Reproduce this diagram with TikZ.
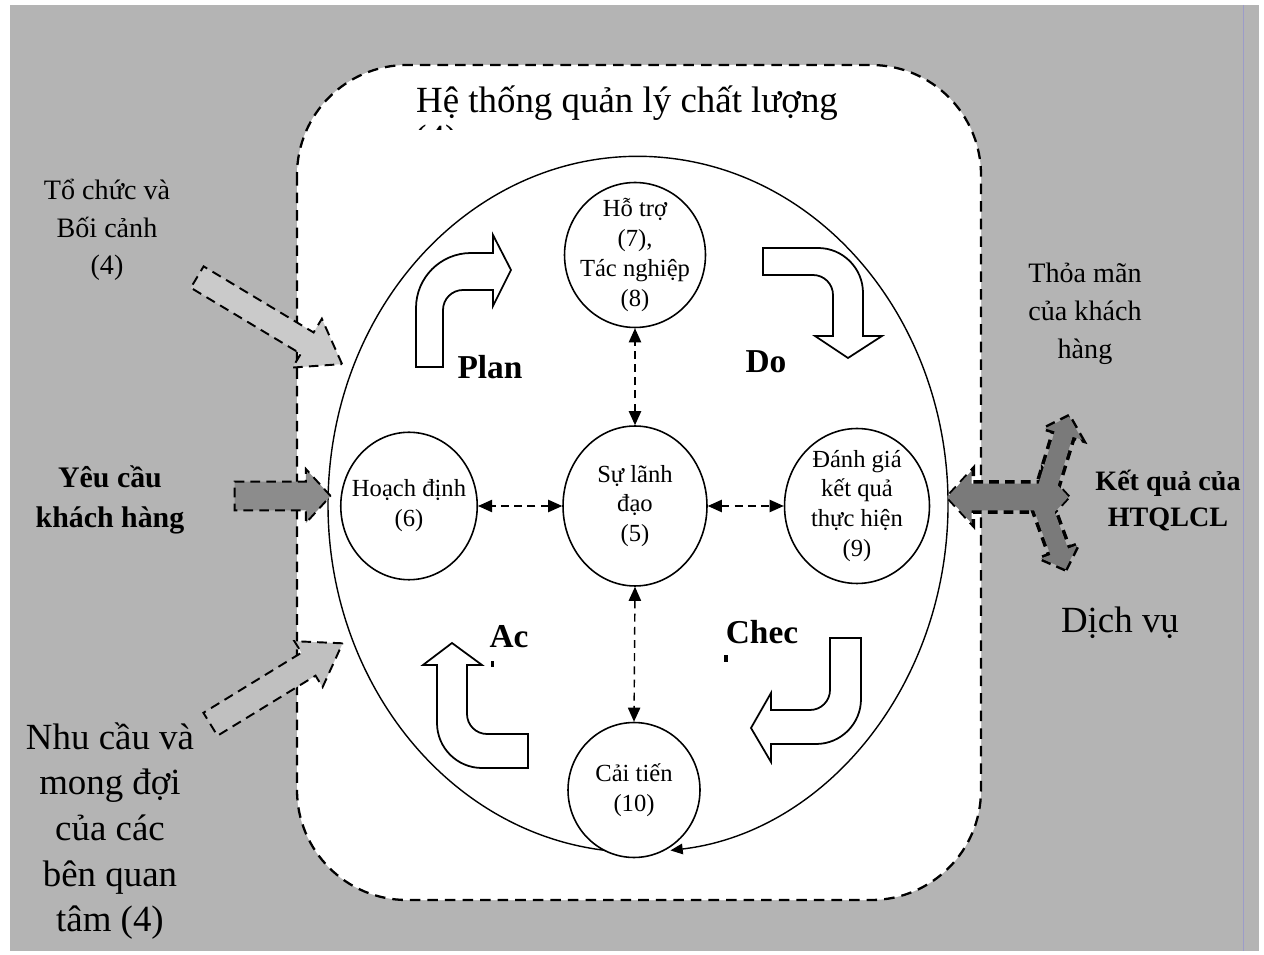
\documentclass[tikz,border=0pt]{standalone}
\usepackage{fontspec}
\setmainfont{Liberation Serif}
\usetikzlibrary{shapes.geometric,shapes.arrows,arrows.meta}

\definecolor{scangray}{RGB}{180,180,180}
\definecolor{lightflow}{RGB}{202,202,202}
\definecolor{midflow}{RGB}{192,192,192}
\definecolor{darkflow}{RGB}{140,140,140}
\definecolor{resultfill}{RGB}{122,122,122}

\begin{document}
\begin{tikzpicture}[x=0.02cm,y=-0.02cm,
    stage/.style={ellipse,draw,line width=0.9pt,fill=white,inner sep=-5pt,align=center,
      font=\fontsize{14}{17}\selectfont},
    link/.style={line width=0.8pt,dash pattern=on 4.5pt off 3pt,
      {Triangle[length=8pt,width=7pt]}-{Triangle[length=8pt,width=7pt]}},
    turn/.style={draw,line width=1pt,fill=white},
    inflow/.style={single arrow,draw,line width=1.1pt,dash pattern=on 5.5pt off 3.5pt,inner xsep=0pt},
    phase/.style={font=\fontsize{19}{22}\selectfont\bfseries},
    side/.style={align=center,font=\fontsize{16}{21.5}\selectfont}]

    % Scanned page background
    \fill[white] (0,0) rectangle (1264,955);
    \fill[scangray] (10,5) rectangle (1259,951);
    \draw[blue!30!gray!60,line width=0.5pt] (1243,5) -- (1243,951);

    % Quality management system boundary
    \draw[fill=white,line width=1.3pt,dash pattern=on 6pt off 4pt,rounded corners=2.2cm]
        (297,65) rectangle (981,900);
    \node[font=\fontsize{21}{25}\selectfont] (title) at (627,103) {Hệ thống quản lý chất lượng};
    \begin{scope}
        \clip (400,110) rectangle (470,130);
        \node[font=\fontsize{21}{25}\selectfont] (titlenum) at (436,142) {(4)};
    \end{scope}

    % PDCA cycle
    \draw[line width=0.8pt,-{Triangle[length=7pt,width=6pt]}] (611,851)
        arc[start angle=95,end angle=444,x radius=310,y radius=348];

    % Stages
    \node[stage,minimum width=2.82cm,minimum height=2.9cm] (support) at (635,255) {Hỗ trợ\\(7),\\Tác nghiệp\\(8)};
    \node[stage,minimum width=2.6cm,minimum height=2.95cm] (planning) at (409,506) {Hoạch định\\(6)};
    \node[stage,minimum width=2.88cm,minimum height=3.2cm] (lead) at (635,506) {Sự lãnh\\đạo\\(5)};
    \node[stage,minimum width=2.9cm,minimum height=3.1cm] (review) at (857,506) {Đánh giá\\kết quả\\thực hiện\\(9)};
    \node[stage,minimum width=2.64cm,minimum height=2.7cm] (improve) at (634,790) {Cải tiến\\(10)};

    \draw[link] (lead.north) -- (support.south);
    \draw[link] (lead.west) -- (planning.east);
    \draw[link] (lead.east) -- (review.west);
    \draw[link] (lead.south) -- (improve.north);

    % Plan
    \draw[turn] (416,367) -- (416,308) arc[start angle=180,end angle=270,radius=55]
        -- (493,253) -- (493,235) -- (511,270) -- (493,306) -- (493,290) -- (463,290)
        arc[start angle=270,end angle=180,radius=20] -- (443,367) -- cycle;
    % Do
    \draw[turn] (763,248) -- (818,248) arc[start angle=270,end angle=360,radius=45]
        -- (863,336) -- (882,336) -- (848,358) -- (815,336) -- (833,336) -- (833,295)
        arc[start angle=0,end angle=-90,radius=20] -- (763,275) -- cycle;
    % Check
    \draw[turn] (830,638) -- (861,638) -- (861,699) arc[start angle=0,end angle=90,radius=45]
        -- (771,744) -- (771,762) -- (751,728) -- (771,693) -- (771,710) -- (810,710)
        arc[start angle=90,end angle=0,radius=20] -- cycle;
    % Act
    \draw[turn] (528,734) -- (487,734) arc[start angle=90,end angle=180,radius=20]
        -- (467,665) -- (482,665) -- (452,643) -- (423,665) -- (437,665) -- (437,723)
        arc[start angle=180,end angle=90,radius=45] -- (528,768) -- cycle;

    \node[phase] (plan) at (490,367) {Plan};
    \node[phase] (do) at (766,362) {Do};
    \node[phase] (act) at (509,637) {Ac};
    \node[phase] (check) at (762,632) {Chec};
    \fill (491,661) rectangle (494,667);
    \fill (724,655) rectangle (728,662);

    % Inputs
    \node[side] (context) at (107,230) {Tổ chức và\\Bối cảnh\\(4)};
    \node[side,font=\fontsize{17}{22.5}\selectfont\bfseries] (needs) at (110,500) {Yêu cầu\\khách hàng};
    \node[side,font=\fontsize{21}{26}\selectfont] (parties) at (110,831) {Nhu cầu và\\mong đợi\\của các\\bên quan\\tâm (4)};

    \node[inflow,fill=lightflow,inner ysep=0.23cm,minimum width=1.1cm,minimum height=3.38cm,
        single arrow head extend=0.32cm,single arrow tip angle=70,rotate=-31] (contextflow) at (262,316) {};
    \node[inflow,fill=darkflow,inner ysep=0.27cm,minimum width=1.04cm,minimum height=1.92cm,
        single arrow head extend=0.25cm,single arrow tip angle=95] (needsflow) at (276,496) {};
    \node[inflow,fill=midflow,inner ysep=0.25cm,minimum width=1.04cm,minimum height=3.1cm,
        single arrow head extend=0.27cm,single arrow tip angle=68,rotate=31.5] (partiesflow) at (268,689) {};

    % Outputs
    \node[side] (satisfy) at (1085,314) {Thỏa mãn\\của khách\\hàng};
    \node[side,font=\fontsize{16}{20.5}\selectfont\bfseries] (results) at (1168,501) {Kết quả của\\HTQLCL};
    \node[font=\fontsize{21}{25}\selectfont] (service) at (1120,623) {Dịch vụ};

    \node[double arrow,draw,line width=2.2pt,dash pattern=on 5.5pt off 3.5pt,inner xsep=0pt,inner ysep=0.26cm,
        minimum width=1.04cm,minimum height=2.42cm,double arrow head extend=0.26cm,double arrow tip angle=95]
        (resultline) at (1008,497) {};
    \node[inflow,line width=2.2pt,inner ysep=0.18cm,minimum width=0.76cm,minimum height=1.6cm,
        single arrow head extend=0.2cm,single arrow tip angle=93,rotate=73] (upline) at (1056,459) {};
    \node[inflow,line width=2.2pt,inner ysep=0.18cm,minimum width=0.76cm,minimum height=1.4cm,
        single arrow head extend=0.2cm,single arrow tip angle=93,rotate=-70] (downline) at (1052,532) {};
    \node[double arrow,fill=resultfill,inner xsep=0pt,inner ysep=0.26cm,
        minimum width=1.04cm,minimum height=2.42cm,double arrow head extend=0.26cm,double arrow tip angle=95]
        (resultflow) at (1008,497) {};
    \node[single arrow,fill=resultfill,inner xsep=0pt,inner ysep=0.18cm,minimum width=0.76cm,minimum height=1.6cm,
        single arrow head extend=0.2cm,single arrow tip angle=93,rotate=73] (upflow) at (1056,459) {};
    \node[single arrow,fill=resultfill,inner xsep=0pt,inner ysep=0.18cm,minimum width=0.76cm,minimum height=1.4cm,
        single arrow head extend=0.2cm,single arrow tip angle=93,rotate=-70] (downflow) at (1052,532) {};
\end{tikzpicture}
\end{document}
